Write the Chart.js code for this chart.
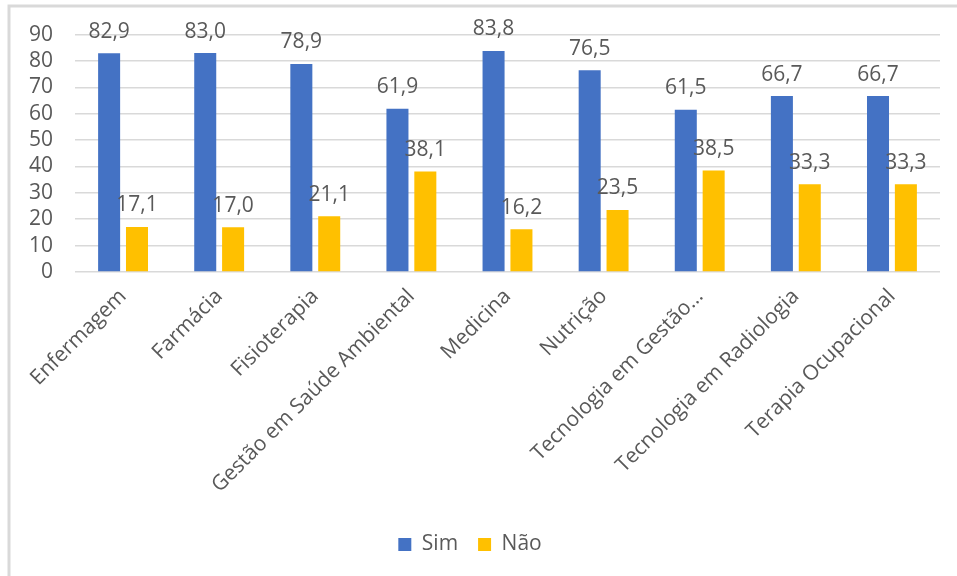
<!DOCTYPE html>
<html>
<head>
<meta charset="utf-8">
<script src="https://cdn.jsdelivr.net/npm/chart.js@4/dist/chart.umd.min.js"></script>
<style>
  html, body { margin: 0; padding: 0; background: #fff; }
  #wrap { width: 957px; height: 576px; position: relative; }
</style>
</head>
<body>
<div id="wrap"><canvas id="myChart"></canvas></div>
<script>
const cursos = [
  "Enfermagem",
  "Farmácia",
  "Fisioterapia",
  "Gestão em Saúde Ambiental",
  "Medicina",
  "Nutrição",
  "Tecnologia em Gestão…",
  "Tecnologia em Radiologia",
  "Terapia Ocupacional",
];
const sim = [82.9, 83.0, 78.9, 61.9, 83.8, 76.5, 61.5, 66.7, 66.7];
const nao = [17.1, 17.0, 21.1, 38.1, 16.2, 23.5, 38.5, 33.3, 33.3];

const textColor = "#595959";
const fontFamily = "'Open Sans', 'Noto Sans', sans-serif";

Chart.defaults.font.family = fontFamily;
Chart.defaults.color = textColor;

// rótulos de dados acima das barras
const valueLabels = {
  id: "valueLabels",
  afterDatasetsDraw(chart) {
    const ctx = chart.ctx;
    ctx.save();
    ctx.font = "21px " + fontFamily;
    ctx.fillStyle = textColor;
    ctx.textAlign = "center";
    ctx.textBaseline = "bottom";
    chart.data.datasets.forEach((ds, i) => {
      chart.getDatasetMeta(i).data.forEach((bar, j) => {
        const txt = ds.data[j].toFixed(1).replace(".", ",");
        ctx.fillText(txt, bar.x, bar.y - 11);
      });
    });
    ctx.restore();
  },
};

// moldura cinza (esquerda e topo)
const frame = {
  id: "frame",
  beforeDraw(chart) {
    const ctx = chart.ctx;
    ctx.save();
    ctx.strokeStyle = "#d9d9d9";
    ctx.lineWidth = 3;
    ctx.beginPath();
    ctx.moveTo(9, 576);
    ctx.lineTo(9, 6);
    ctx.lineTo(957, 6);
    ctx.stroke();
    ctx.restore();
  },
};

const myChart = new Chart(document.getElementById("myChart").getContext("2d"), {
  type: "bar",
  data: {
    labels: cursos,
    datasets: [
      {
        label: "Sim",
        data: sim,
        backgroundColor: "#4472C4",
        categoryPercentage: 0.58,
        barPercentage: 0.79,
      },
      {
        label: "Não",
        data: nao,
        backgroundColor: "#FFC000",
        categoryPercentage: 0.58,
        barPercentage: 0.79,
      },
    ],
  },
  options: {
    responsive: true,
    maintainAspectRatio: false,
    animation: false,
    layout: {
      padding: { top: 34, right: 17, bottom: 11, left: 0 },
    },
    scales: {
      x: {
        grid: { display: false, drawTicks: false },
        border: { display: false },
        ticks: {
          maxRotation: 45,
          minRotation: 45,
          autoSkip: false,
          padding: 12,
          font: { size: 21 },
          color: textColor,
        },
        afterFit(scale) {
          scale.height = 242;
        },
      },
      y: {
        min: 0,
        max: 90,
        grid: { color: "#d9d9d9", lineWidth: 1.5, drawTicks: false },
        border: { display: false },
        ticks: {
          stepSize: 10,
          autoSkip: false,
          padding: 22,
          font: { size: 21 },
          color: textColor,
        },
        afterFit(scale) {
          scale.width = 75;
        },
      },
    },
    plugins: {
      legend: {
        display: true,
        position: "bottom",
        labels: {
          boxWidth: 13,
          boxHeight: 13,
          padding: 20,
          font: { size: 21 },
          color: textColor,
        },
      },
      tooltip: { enabled: false },
    },
  },
  plugins: [valueLabels, frame],
});
</script>
</body>
</html>
